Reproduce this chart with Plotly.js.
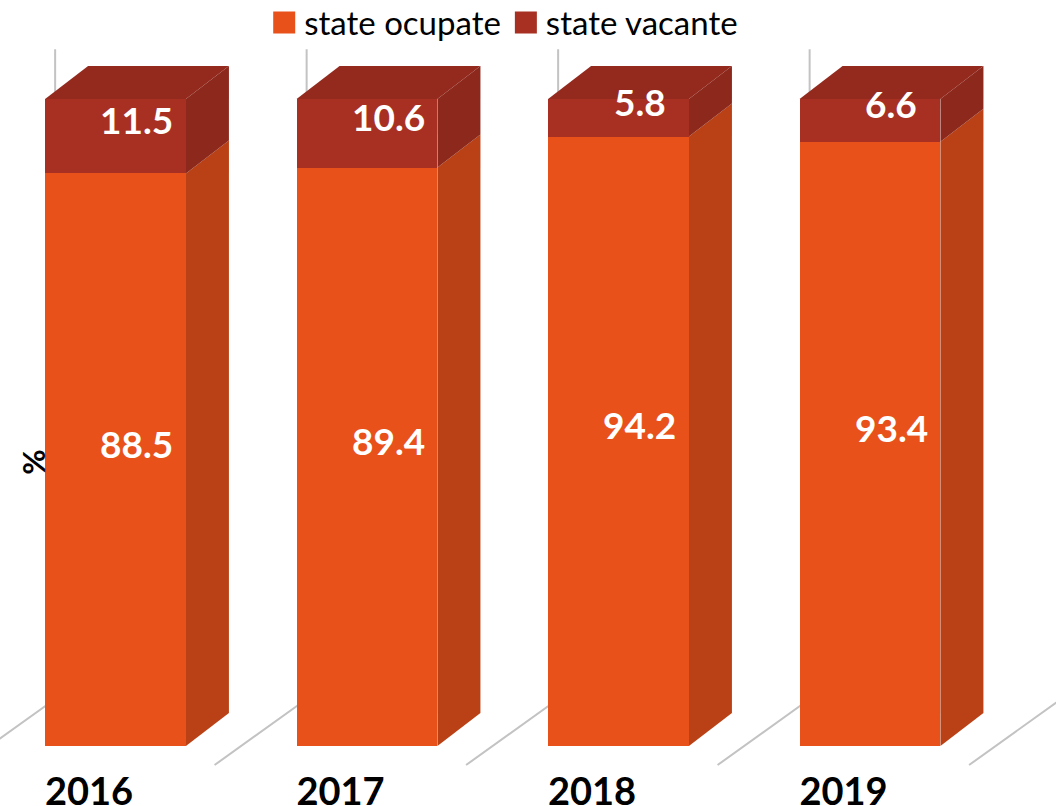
<!DOCTYPE html>
<html><head><meta charset="utf-8">
<script src="https://cdn.plot.ly/plotly-3.0.1.min.js"></script>
<style>html,body{margin:0;padding:0;background:#fff}#chart{width:1056px;height:806px}</style>
</head><body><div id="chart"></div>
<script>
// ---- data ----
const years = ['2016', '2017', '2018', '2019'];
const ocupate = [88.5, 89.4, 94.2, 93.4];
const vacante = [11.5, 10.6, 5.8, 6.6];
const seriesNames = ['state ocupate', 'state vacante'];
const yTitle = '%';

// ---- style / geometry ----
const BAR_W = 0.56;          // bar width (category units)
const DX = 0.171, DY = 5.1;  // 3D depth offset (x units, y units)
const C = {
  oFront: '#E8511A', oSide: '#B94115',
  rFront: '#A83022', rSide: '#8C281C', rTop: '#942A1E',
  grid: '#C3C3C3'
};
const FONT = 'Lato, "Open Sans", sans-serif';

const xs = years.map((_, i) => i);
const shapes = [];

// floor / back-wall divider lines at category boundaries
for (let b = 0; b <= years.length; b++) {
  const fx = b - 0.606, bx = b - 0.24;
  shapes.push({type: 'path', layer: 'below', xref: 'x', yref: 'y',
    path: `M${fx},-2.94 L${bx},7.26 L${bx},107.7`,
    line: {color: C.grid, width: 2}});
}

function poly(pts, color) {
  shapes.push({type: 'path', layer: 'below', xref: 'x', yref: 'y',
    path: 'M' + pts.map(p => p[0] + ',' + p[1]).join(' L') + ' Z',
    fillcolor: color, line: {width: 0}});
}

const annotations = [];
xs.forEach((x, i) => {
  const xl = x - BAR_W / 2, xr = x + BAR_W / 2;
  const y1 = ocupate[i], y2 = ocupate[i] + vacante[i];
  // side faces
  poly([[xr, 0], [xr + DX, DY], [xr + DX, y1 + DY], [xr, y1]], C.oSide);
  poly([[xr, y1], [xr + DX, y1 + DY], [xr + DX, y2 + DY], [xr, y2]], C.rSide);
  // top face
  poly([[xl, y2], [xl + DX, y2 + DY], [xr + DX, y2 + DY], [xr, y2]], C.rTop);
  // labels centred in the 3D box
  annotations.push({x: x + DX / 2, y: y1 / 2 + DY / 2, xref: 'x', yref: 'y',
    text: String(ocupate[i]), showarrow: false,
    font: {family: FONT, size: 37, color: '#fff', weight: 700}});
  annotations.push({x: x + DX / 2, y: y1 + vacante[i] / 2 + DY / 2, xref: 'x', yref: 'y',
    text: String(vacante[i]), showarrow: false,
    font: {family: FONT, size: 37, color: '#fff', weight: 700}});
});

annotations.push({xref: 'paper', yref: 'paper', x: 0.031, y: 0.397,
  xanchor: 'center', yanchor: 'middle',
  text: '<b>' + yTitle + '</b>', textangle: -90, showarrow: false,
  font: {family: FONT, size: 31, color: '#000'}});

const traces = [
  {type: 'bar', name: seriesNames[0], x: xs, y: ocupate, width: BAR_W,
   marker: {color: C.oFront}, hoverinfo: 'skip'},
  {type: 'bar', name: seriesNames[1], x: xs, y: vacante, width: BAR_W,
   marker: {color: C.rFront}, hoverinfo: 'skip'}
];

const layout = {
  width: 1056, height: 806,
  margin: {l: 0, r: 0, t: 0, b: 40, autoexpand: false},
  barmode: 'stack',
  paper_bgcolor: '#fff', plot_bgcolor: 'rgba(0,0,0,0)',
  showlegend: true,
  legend: {orientation: 'h', x: 0.477, xanchor: 'center', y: 1.007, yanchor: 'top',
    bgcolor: 'rgba(0,0,0,0)', font: {family: FONT, size: 33, color: '#000'},
    traceorder: 'normal'},
  xaxis: {range: [-0.4592, 3.7396], showgrid: false, zeroline: false, showline: false,
    tickvals: xs.map(x => x - 0.105), ticktext: years, ticks: '',
    tickfont: {family: FONT, size: 38, color: '#000', weight: 700}, fixedrange: true},
  yaxis: {range: [-3.09, 115.30], showgrid: false, zeroline: false, showline: false,
    showticklabels: false, fixedrange: true},
  shapes: shapes,
  annotations: annotations
};

Plotly.newPlot('chart', traces, layout, {staticPlot: true, displayModeBar: false}).then(() => {
  // enlarge legend swatches to match the reference squares
  document.querySelectorAll('.legend .legendpoints path').forEach(p => {
    p.setAttribute('d', 'M11,11H-11V-11H11Z');
  });
});
</script>
</body></html>
